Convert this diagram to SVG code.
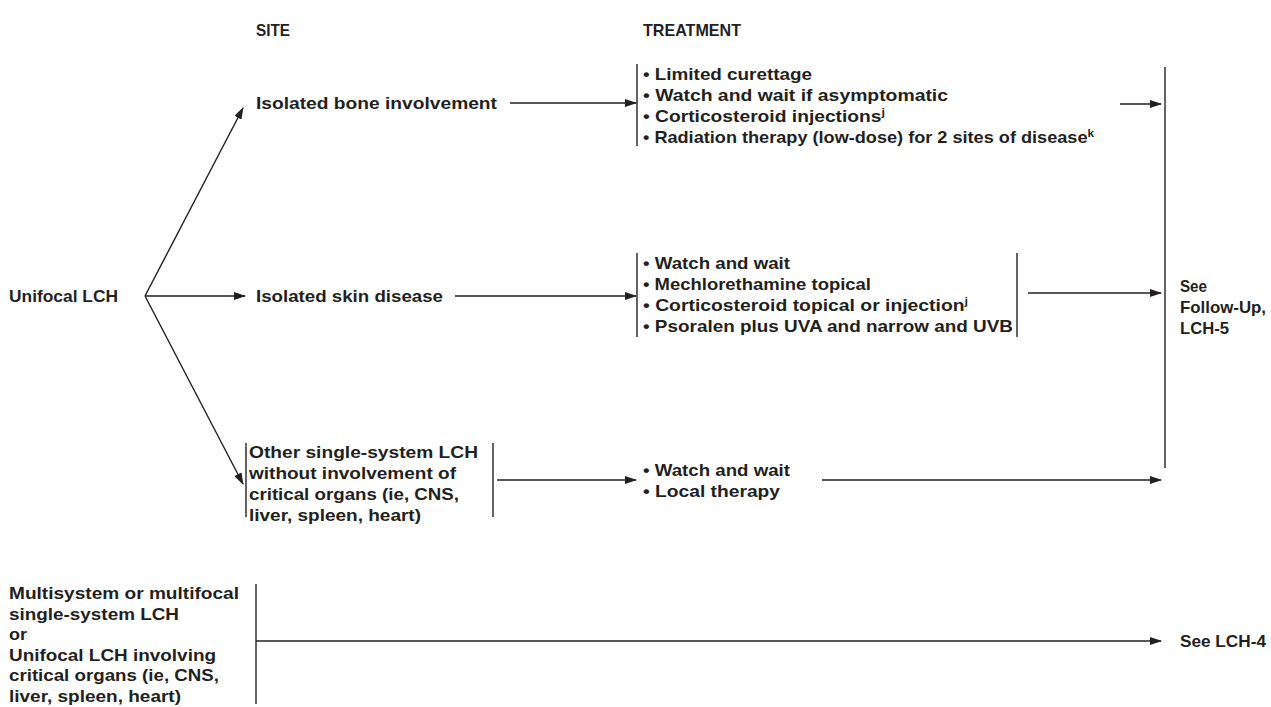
<svg xmlns="http://www.w3.org/2000/svg" width="1271" height="707" viewBox="0 0 1271 707">
<style>
text{font-family:"Liberation Sans",Arial,sans-serif;font-weight:bold;font-size:17px;fill:#231f20}
.sup{font-size:11px}
line{stroke:#231f20;stroke-width:1.4}
.c{marker-end:url(#ah)}
</style>
<defs>
<marker id="ah" markerWidth="12" markerHeight="8" refX="11" refY="4" orient="auto" markerUnits="userSpaceOnUse">
<path d="M0,0 L12,4 L0,8 Z" fill="#231f20"/>
</marker>
</defs>
<rect width="1271" height="707" fill="#fff"/>
<g id="headers">
<text x="256" y="36" textLength="34" lengthAdjust="spacingAndGlyphs">SITE</text>
<text x="643" y="36" textLength="98" lengthAdjust="spacingAndGlyphs">TREATMENT</text>
</g>
<g id="unifocal"><text x="9" y="302" textLength="109" lengthAdjust="spacingAndGlyphs">Unifocal LCH</text></g>
<g id="bone"><text x="256" y="109" textLength="241" lengthAdjust="spacingAndGlyphs">Isolated bone involvement</text></g>
<g id="skin"><text x="256" y="302" textLength="187" lengthAdjust="spacingAndGlyphs">Isolated skin disease</text></g>
<g id="other">
<line x1="246" y1="443" x2="246" y2="517"/>
<line x1="493" y1="443" x2="493" y2="517"/>
<text x="249" y="458" textLength="229" lengthAdjust="spacingAndGlyphs">Other single-system LCH</text>
<text x="249" y="479" textLength="207" lengthAdjust="spacingAndGlyphs">without involvement of</text>
<text x="249" y="500" textLength="210" lengthAdjust="spacingAndGlyphs">critical organs (ie, CNS,</text>
<text x="249" y="521" textLength="172" lengthAdjust="spacingAndGlyphs">liver, spleen, heart)</text>
</g>
<g id="bone-tx">
<line x1="637" y1="64" x2="637" y2="146"/>
<text x="643" y="80" textLength="169" lengthAdjust="spacingAndGlyphs">• Limited curettage</text>
<text x="643" y="101" textLength="305" lengthAdjust="spacingAndGlyphs">• Watch and wait if asymptomatic</text>
<text x="643" y="122" textLength="242" lengthAdjust="spacingAndGlyphs">• Corticosteroid injections<tspan class="sup" dy="-6">j</tspan></text>
<text x="643" y="143" textLength="451" lengthAdjust="spacingAndGlyphs">• Radiation therapy (low-dose) for 2 sites of disease<tspan class="sup" dy="-6">k</tspan></text>
</g>
<g id="skin-tx">
<line x1="637" y1="253" x2="637" y2="337"/>
<line x1="1017" y1="253" x2="1017" y2="337"/>
<text x="643" y="269" textLength="147" lengthAdjust="spacingAndGlyphs">• Watch and wait</text>
<text x="643" y="290" textLength="228" lengthAdjust="spacingAndGlyphs">• Mechlorethamine topical</text>
<text x="643" y="311" textLength="325" lengthAdjust="spacingAndGlyphs">• Corticosteroid topical or injection<tspan class="sup" dy="-6">j</tspan></text>
<text x="643" y="332" textLength="370" lengthAdjust="spacingAndGlyphs">• Psoralen plus UVA and narrow and UVB</text>
</g>
<g id="other-tx">
<text x="643" y="476" textLength="147" lengthAdjust="spacingAndGlyphs">• Watch and wait</text>
<text x="643" y="497" textLength="137" lengthAdjust="spacingAndGlyphs">• Local therapy</text>
</g>
<g id="followup">
<line x1="1165" y1="67" x2="1165" y2="468"/>
<text x="1180" y="292" textLength="27" lengthAdjust="spacingAndGlyphs">See</text>
<text x="1180" y="313" textLength="86" lengthAdjust="spacingAndGlyphs">Follow-Up,</text>
<text x="1180" y="334" textLength="49" lengthAdjust="spacingAndGlyphs">LCH-5</text>
</g>
<g id="multi">
<line x1="256" y1="584" x2="256" y2="704"/>
<text x="9" y="599" textLength="230" lengthAdjust="spacingAndGlyphs">Multisystem or multifocal</text>
<text x="9" y="620" textLength="170" lengthAdjust="spacingAndGlyphs">single-system LCH</text>
<text x="9" y="640" textLength="18" lengthAdjust="spacingAndGlyphs">or</text>
<text x="9" y="661" textLength="207" lengthAdjust="spacingAndGlyphs">Unifocal LCH involving</text>
<text x="9" y="681" textLength="210" lengthAdjust="spacingAndGlyphs">critical organs (ie, CNS,</text>
<text x="9" y="702" textLength="172" lengthAdjust="spacingAndGlyphs">liver, spleen, heart)</text>
</g>
<g id="lch4"><text x="1180" y="647" textLength="86" lengthAdjust="spacingAndGlyphs">See LCH-4</text></g>
<g id="connectors">
<line class="c" x1="145" y1="296" x2="243" y2="108"/>
<line class="c" x1="145" y1="296" x2="245" y2="296"/>
<line class="c" x1="145" y1="296" x2="243" y2="484"/>
<line class="c" x1="510" y1="103" x2="636" y2="103"/>
<line class="c" x1="455" y1="296" x2="636" y2="296"/>
<line class="c" x1="497" y1="480" x2="636" y2="480"/>
<line class="c" x1="1120" y1="104" x2="1161" y2="104"/>
<line class="c" x1="1028" y1="293" x2="1161" y2="293"/>
<line class="c" x1="822" y1="480" x2="1161" y2="480"/>
<line class="c" x1="256" y1="641" x2="1161" y2="641"/>
</g>
</svg>
